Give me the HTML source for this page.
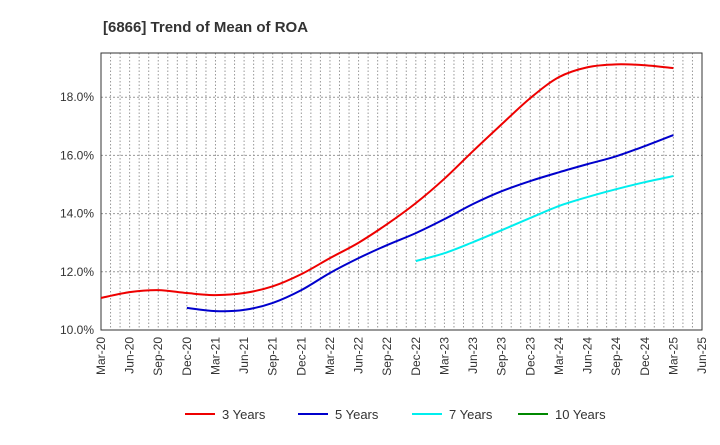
<!DOCTYPE html>
<html><head><meta charset="utf-8"><style>
body{margin:0;background:#fff;font-family:"Liberation Sans",sans-serif}
</style></head><body>
<svg id="c" width="720" height="440" xmlns="http://www.w3.org/2000/svg" font-family="Liberation Sans, sans-serif">
<text x="103" y="32" font-size="15" font-weight="bold" fill="#333">[6866]  Trend of Mean of ROA</text>
</svg>
<script>
const xLabels=["Mar-20","Jun-20","Sep-20","Dec-20","Mar-21","Jun-21","Sep-21","Dec-21","Mar-22","Jun-22","Sep-22","Dec-22","Mar-23","Jun-23","Sep-23","Dec-23","Mar-24","Jun-24","Sep-24","Dec-24","Mar-25","Jun-25"];
const yTicks=[10,12,14,16,18];
const s3=[11.1,11.3,11.37,11.27,11.2,11.27,11.5,11.92,12.47,13.0,13.64,14.36,15.2,16.15,17.07,17.97,18.69,19.03,19.13,19.1,19.0];
const s5=[10.76,10.65,10.69,10.93,11.37,11.96,12.47,12.92,13.33,13.81,14.33,14.77,15.12,15.42,15.7,15.97,16.32,16.7];
const s5Start=3;
const s7=[12.37,12.64,13.02,13.43,13.85,14.26,14.57,14.84,15.08,15.29];
const s7Start=11;
const s10=[];
const L=101,R=702,T=53,B=330,yMin=10,yMax=19.52;
const svg=document.getElementById('c');const NS="http://www.w3.org/2000/svg";
const X=i=>L+(R-L)*i/(xLabels.length-1);
const Y=v=>B-(v-yMin)/(yMax-yMin)*(B-T);
function mk(t,a,p){const e=document.createElementNS(NS,t);for(const k in a)e.setAttribute(k,a[k]);(p||svg).appendChild(e);return e;}
// monthly vertical grid
const months=(xLabels.length-1)*3;
for(let m=1;m<months;m++){const x=L+(R-L)*m/months;
const g=mk('line',{x1:x,x2:x,y1:T,y2:B,stroke:'#999','stroke-dasharray':'1.5,2','stroke-width':1});

}
yTicks.forEach(v=>{if(v>yMin){const g=mk('line',{x1:L,x2:R,y1:Y(v),y2:Y(v),stroke:'#999','stroke-dasharray':'2,2','stroke-width':1});

}
const t=mk('text',{x:L-7,y:Y(v)+4,'text-anchor':'end','font-size':12,fill:'#333'});t.textContent=v.toFixed(1)+'%';

});
xLabels.forEach((s,i)=>{const t=mk('text',{transform:`translate(${X(i)+4},337) rotate(-90)`,'text-anchor':'end','font-size':12,fill:'#333'});t.textContent=s;

});
const fr=mk('rect',{x:L,y:T,width:R-L,height:B-T,fill:'none',stroke:'#333','stroke-width':1});


function path(vals,start){const p=vals.map((v,i)=>[X(start+i),Y(v)]);if(p.length<2)return '';
let d=`M${p[0][0]},${p[0][1]}`;
for(let i=0;i<p.length-1;i++){const p0=p[i-1]||p[i],p1=p[i],p2=p[i+1],p3=p[i+2]||p2;
d+=`C${p1[0]+(p2[0]-p0[0])/6},${p1[1]+(p2[1]-p0[1])/6} ${p2[0]-(p3[0]-p1[0])/6},${p2[1]-(p3[1]-p1[1])/6} ${p2[0]},${p2[1]}`;}
return d;}
[[s3,0,'#e00','series-3-years'],[s5,s5Start,'#00c','series-5-years'],[s7,s7Start,'#0ee','series-7-years'],[s10,0,'#080','series-10-years']].forEach(([v,s,c,n])=>{
const d=path(v,s);if(!d)return;const e=mk('path',{d:d,fill:'none',stroke:c,'stroke-width':2});

});
[['3 Years','#e00',185],['5 Years','#00c',298],['7 Years','#0ee',412],['10 Years','#080',518]].forEach(([l,c,x])=>{
const g=mk('g',{});


mk('line',{x1:x,x2:x+30,y1:414,y2:414,stroke:c,'stroke-width':2},g);
const t=mk('text',{x:x+37,y:419,'font-size':13,fill:'#333'},g);t.textContent=l;});
</script>
</body></html>
